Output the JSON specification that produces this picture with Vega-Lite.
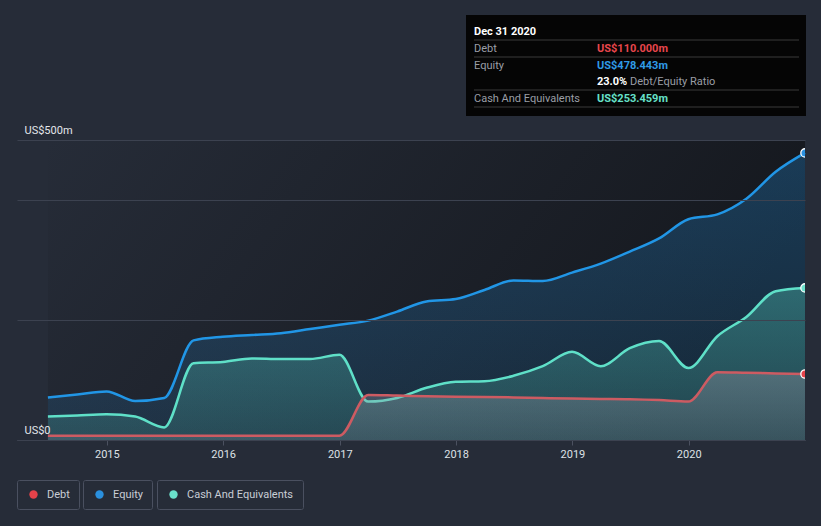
{
  "$schema": "https://vega.github.io/schema/vega-lite/v6.json",
  "width": 788,
  "height": 300,
  "autosize": {"type": "none"},
  "padding": {"left": 17, "top": 140, "right": 16, "bottom": 86},
  "background": "#262c38",
  "config": {"view": {"stroke": null}, "font": "Roboto"},
  "datasets": {
    "fin": [
      {"date": "2014-06-30", "debt": 7, "equity": 71, "cash": 39},
      {"date": "2014-09-30", "debt": 7, "equity": 76, "cash": 41},
      {"date": "2014-12-31", "debt": 7, "equity": 81, "cash": 43},
      {"date": "2015-03-31", "debt": 7, "equity": 65, "cash": 39},
      {"date": "2015-06-30", "debt": 7, "equity": 70, "cash": 21},
      {"date": "2015-09-30", "debt": 7, "equity": 166, "cash": 128},
      {"date": "2015-12-31", "debt": 7, "equity": 172, "cash": 130},
      {"date": "2016-03-31", "debt": 7, "equity": 175, "cash": 136},
      {"date": "2016-06-30", "debt": 7, "equity": 178, "cash": 135},
      {"date": "2016-09-30", "debt": 7, "equity": 185, "cash": 135},
      {"date": "2016-12-31", "debt": 7, "equity": 192, "cash": 142},
      {"date": "2017-03-31", "debt": 75, "equity": 199, "cash": 64},
      {"date": "2017-06-30", "debt": 74, "equity": 214, "cash": 70},
      {"date": "2017-09-30", "debt": 73, "equity": 231, "cash": 87},
      {"date": "2017-12-31", "debt": 72, "equity": 235, "cash": 97},
      {"date": "2018-03-31", "debt": 71.5, "equity": 250, "cash": 98},
      {"date": "2018-06-30", "debt": 71, "equity": 266, "cash": 107},
      {"date": "2018-09-30", "debt": 70, "equity": 265, "cash": 123},
      {"date": "2018-12-31", "debt": 69, "equity": 279, "cash": 147},
      {"date": "2019-03-31", "debt": 68.5, "equity": 294, "cash": 123},
      {"date": "2019-06-30", "debt": 68, "equity": 314, "cash": 153},
      {"date": "2019-09-30", "debt": 66.5, "equity": 336, "cash": 165},
      {"date": "2019-12-31", "debt": 64, "equity": 368, "cash": 120},
      {"date": "2020-03-31", "debt": 113, "equity": 376, "cash": 173},
      {"date": "2020-06-30", "debt": 112, "equity": 402, "cash": 205},
      {"date": "2020-09-30", "debt": 111, "equity": 447, "cash": 248},
      {"date": "2020-12-31", "debt": 110, "equity": 478.443, "cash": 253.459}
    ],
    "tip": [
      {"item": "Title", "label": "Dec 31 2020", "amount": ""},
      {"item": "Debt", "label": "Debt", "amount": "US$110.000m"},
      {"item": "Equity", "label": "Equity", "amount": "US$478.443m"},
      {"item": "Ratio", "label": "Debt/Equity Ratio", "amount": "23.0%"},
      {"item": "Cash", "label": "Cash And Equivalents", "amount": "US$253.459m"}
    ]
  },
  "data": {"name": "fin"},
  "resolve": {"scale": {"color": "independent"}, "legend": {"color": "independent"}},
  "layer": [
    {
      "mark": {"type": "rect", "fill": {"gradient": "linear", "x1": 0, "y1": 0, "x2": 1, "y2": 0.3, "stops": [{"offset": 0, "color": "#262c38"}, {"offset": 1, "color": "#15181e"}]}},
      "encoding": {
        "x": {"aggregate": "min", "field": "date", "type": "temporal", "title": null,
          "scale": {"type": "utc", "domain": [{"year": 2014, "month": 3, "date": 25, "utc": true}, {"year": 2020, "month": 12, "date": 31, "utc": true}]},
          "axis": {"format": "%Y", "tickCount": {"interval": "year", "step": 1}, "grid": false, "domainColor": "#4b5160", "tickColor": "#4b5160", "tickSize": 5, "labelColor": "#dde1e6", "labelFontSize": 11, "labelPadding": 3, "labelFont": "Roboto"}},
        "x2": {"aggregate": "max", "field": "date"},
        "y": {"datum": 0, "type": "quantitative", "title": null,
          "scale": {"domain": [0, 500], "nice": false},
          "axis": {"values": [0, 200, 400, 500], "labelExpr": "datum.value == 500 ? 'US$500m' : datum.value == 0 ? 'US$0' : ''", "domain": false, "ticks": false, "grid": true, "gridColor": "#3c4250", "gridWidth": 1, "labelAlign": "left", "labelBaseline": "alphabetic", "labelPadding": -7, "labelOffset": -7, "labelColor": "#e3e6ea", "labelFontSize": 11, "labelFont": "Roboto", "zindex": 1}},
        "y2": {"datum": 500}
      }
    },
    {
      "layer": [
        {"mark": {"type": "area", "interpolate": "monotone", "fill": {"gradient": "linear", "x1": 0, "y1": 0, "x2": 0, "y2": 1, "stops": [{"offset": 0, "color": "rgba(35,148,229,0.28)"}, {"offset": 1, "color": "rgba(35,148,229,0.12)"}]}},
          "encoding": {"x": {"field": "date", "type": "temporal", "title": null}, "y": {"field": "equity", "type": "quantitative", "title": null}}},
        {"mark": {"type": "line", "interpolate": "monotone", "color": "#2196e6", "strokeWidth": 2.5},
          "encoding": {"x": {"field": "date", "type": "temporal", "title": null}, "y": {"field": "equity", "type": "quantitative", "title": null}}},
        {"transform": [{"filter": "toDate(datum.date) >= toDate('2020-12-01')"}],
          "mark": {"type": "point", "filled": true, "size": 70, "opacity": 1, "stroke": "#ffffff", "strokeWidth": 1.3, "clip": true},
          "encoding": {"x": {"field": "date", "type": "temporal", "title": null}, "y": {"field": "equity", "type": "quantitative", "title": null},
            "color": {"datum": "Equity", "scale": {"domain": ["Equity"], "range": ["#2a90df"]},
              "legend": {"orient": "none", "legendX": 66, "legendY": 340, "direction": "horizontal", "title": null, "symbolType": "circle", "symbolSize": 70, "symbolStrokeWidth": 0, "symbolOffset": 2, "labelColor": "#c9ced6", "labelFontSize": 11, "labelFont": "Roboto", "labelOffset": 8, "padding": 9, "strokeColor": "#4a5060", "cornerRadius": 2, "labelExpr": "datum.label + '   '"}}}}
      ]
    },
    {
      "layer": [
        {"mark": {"type": "area", "interpolate": "monotone", "fill": {"gradient": "linear", "x1": 0, "y1": 0, "x2": 0, "y2": 1, "stops": [{"offset": 0, "color": "rgba(93,224,201,0.32)"}, {"offset": 1, "color": "rgba(93,224,201,0.15)"}]}},
          "encoding": {"x": {"field": "date", "type": "temporal", "title": null}, "y": {"field": "cash", "type": "quantitative", "title": null}}},
        {"mark": {"type": "line", "interpolate": "monotone", "color": "#5fe0c8", "strokeWidth": 2.5},
          "encoding": {"x": {"field": "date", "type": "temporal", "title": null}, "y": {"field": "cash", "type": "quantitative", "title": null}}},
        {"transform": [{"filter": "toDate(datum.date) >= toDate('2020-12-01')"}],
          "mark": {"type": "point", "filled": true, "size": 70, "opacity": 1, "stroke": "#ffffff", "strokeWidth": 1.3, "clip": true},
          "encoding": {"x": {"field": "date", "type": "temporal", "title": null}, "y": {"field": "cash", "type": "quantitative", "title": null},
            "color": {"datum": "Cash And Equivalents", "scale": {"domain": ["Cash And Equivalents"], "range": ["#6ae0cb"]},
              "legend": {"orient": "none", "legendX": 140, "legendY": 340, "direction": "horizontal", "title": null, "symbolType": "circle", "symbolSize": 70, "symbolStrokeWidth": 0, "symbolOffset": 2, "labelColor": "#c9ced6", "labelFontSize": 11, "labelFont": "Roboto", "labelOffset": 8, "padding": 9, "strokeColor": "#4a5060", "cornerRadius": 2, "labelExpr": "datum.label + '   '"}}}}
      ]
    },
    {
      "layer": [
        {"mark": {"type": "area", "interpolate": "monotone", "fill": {"gradient": "linear", "x1": 0, "y1": 0, "x2": 0, "y2": 1, "stops": [{"offset": 0, "color": "rgba(150,152,165,0.38)"}, {"offset": 1, "color": "rgba(150,152,165,0.2)"}]}},
          "encoding": {"x": {"field": "date", "type": "temporal", "title": null}, "y": {"field": "debt", "type": "quantitative", "title": null}}},
        {"mark": {"type": "line", "interpolate": "monotone", "color": "#cd5b62", "strokeWidth": 2.5},
          "encoding": {"x": {"field": "date", "type": "temporal", "title": null}, "y": {"field": "debt", "type": "quantitative", "title": null}}},
        {"transform": [{"filter": "toDate(datum.date) >= toDate('2020-12-01')"}],
          "mark": {"type": "point", "filled": true, "size": 70, "opacity": 1, "stroke": "#ffffff", "strokeWidth": 1.3, "clip": true},
          "encoding": {"x": {"field": "date", "type": "temporal", "title": null}, "y": {"field": "debt", "type": "quantitative", "title": null},
            "color": {"datum": "Debt", "scale": {"domain": ["Debt"], "range": ["#e5424a"]},
              "legend": {"orient": "none", "legendX": 0, "legendY": 340, "direction": "horizontal", "title": null, "symbolType": "circle", "symbolSize": 70, "symbolStrokeWidth": 0, "symbolOffset": 2, "labelColor": "#c9ced6", "labelFontSize": 11, "labelFont": "Roboto", "labelOffset": 8, "padding": 9, "strokeColor": "#4a5060", "cornerRadius": 2, "labelExpr": "datum.label + '   '"}}}}
      ]
    },
    {
      "data": {"values": [{}]},
      "mark": {"type": "rect", "fill": "#050505"},
      "encoding": {"x": {"value": 449}, "x2": {"value": 789}, "y": {"value": -125}, "y2": {"value": -24}}
    },
    {
      "data": {"values": [{"sep": -100}, {"sep": -83}, {"sep": -50}, {"sep": -33}]},
      "mark": {"type": "rule", "color": "#3a3a3a", "strokeWidth": 1},
      "encoding": {"x": {"value": 457}, "x2": {"value": 782}, "y": {"field": "sep", "type": "quantitative", "scale": null}}
    },
    {
      "data": {"name": "tip"},
      "transform": [{"filter": "datum.item == 'Title'"}],
      "mark": {"type": "text", "align": "left", "baseline": "alphabetic", "font": "Roboto", "fontSize": 11, "fontWeight": "bold", "color": "#ffffff"},
      "encoding": {"x": {"value": 457}, "y": {"value": -105}, "text": {"field": "label"}}
    },
    {
      "data": {"name": "tip"},
      "transform": [{"filter": "datum.item == 'Debt'"}],
      "layer": [
        {"mark": {"type": "text", "align": "left", "baseline": "alphabetic", "font": "Roboto", "fontSize": 11, "color": "#9a9ea6"},
          "encoding": {"x": {"value": 457}, "y": {"value": -88.5}, "text": {"field": "label"}}},
        {"mark": {"type": "text", "align": "left", "baseline": "alphabetic", "font": "Roboto", "fontSize": 11, "fontWeight": "bold", "color": "#e8464c"},
          "encoding": {"x": {"value": 580}, "y": {"value": -88.5}, "text": {"field": "amount"}}}
      ]
    },
    {
      "data": {"name": "tip"},
      "transform": [{"filter": "datum.item == 'Equity'"}],
      "layer": [
        {"mark": {"type": "text", "align": "left", "baseline": "alphabetic", "font": "Roboto", "fontSize": 11, "color": "#9a9ea6"},
          "encoding": {"x": {"value": 457}, "y": {"value": -71}, "text": {"field": "label"}}},
        {"mark": {"type": "text", "align": "left", "baseline": "alphabetic", "font": "Roboto", "fontSize": 11, "fontWeight": "bold", "color": "#2f9ae6"},
          "encoding": {"x": {"value": 580}, "y": {"value": -71}, "text": {"field": "amount"}}}
      ]
    },
    {
      "data": {"name": "tip"},
      "transform": [{"filter": "datum.item == 'Ratio'"}],
      "layer": [
        {"mark": {"type": "text", "align": "left", "baseline": "alphabetic", "font": "Roboto", "fontSize": 11, "color": "#9a9ea6"},
          "encoding": {"x": {"value": 613}, "y": {"value": -55}, "text": {"field": "label"}}},
        {"mark": {"type": "text", "align": "left", "baseline": "alphabetic", "font": "Roboto", "fontSize": 11, "fontWeight": "bold", "color": "#ffffff"},
          "encoding": {"x": {"value": 580}, "y": {"value": -55}, "text": {"field": "amount"}}}
      ]
    },
    {
      "data": {"name": "tip"},
      "transform": [{"filter": "datum.item == 'Cash'"}],
      "layer": [
        {"mark": {"type": "text", "align": "left", "baseline": "alphabetic", "font": "Roboto", "fontSize": 11, "color": "#9a9ea6"},
          "encoding": {"x": {"value": 457}, "y": {"value": -38.5}, "text": {"field": "label"}}},
        {"mark": {"type": "text", "align": "left", "baseline": "alphabetic", "font": "Roboto", "fontSize": 11, "fontWeight": "bold", "color": "#66e0c9"},
          "encoding": {"x": {"value": 580}, "y": {"value": -38.5}, "text": {"field": "amount"}}}
      ]
    }
  ]
}
